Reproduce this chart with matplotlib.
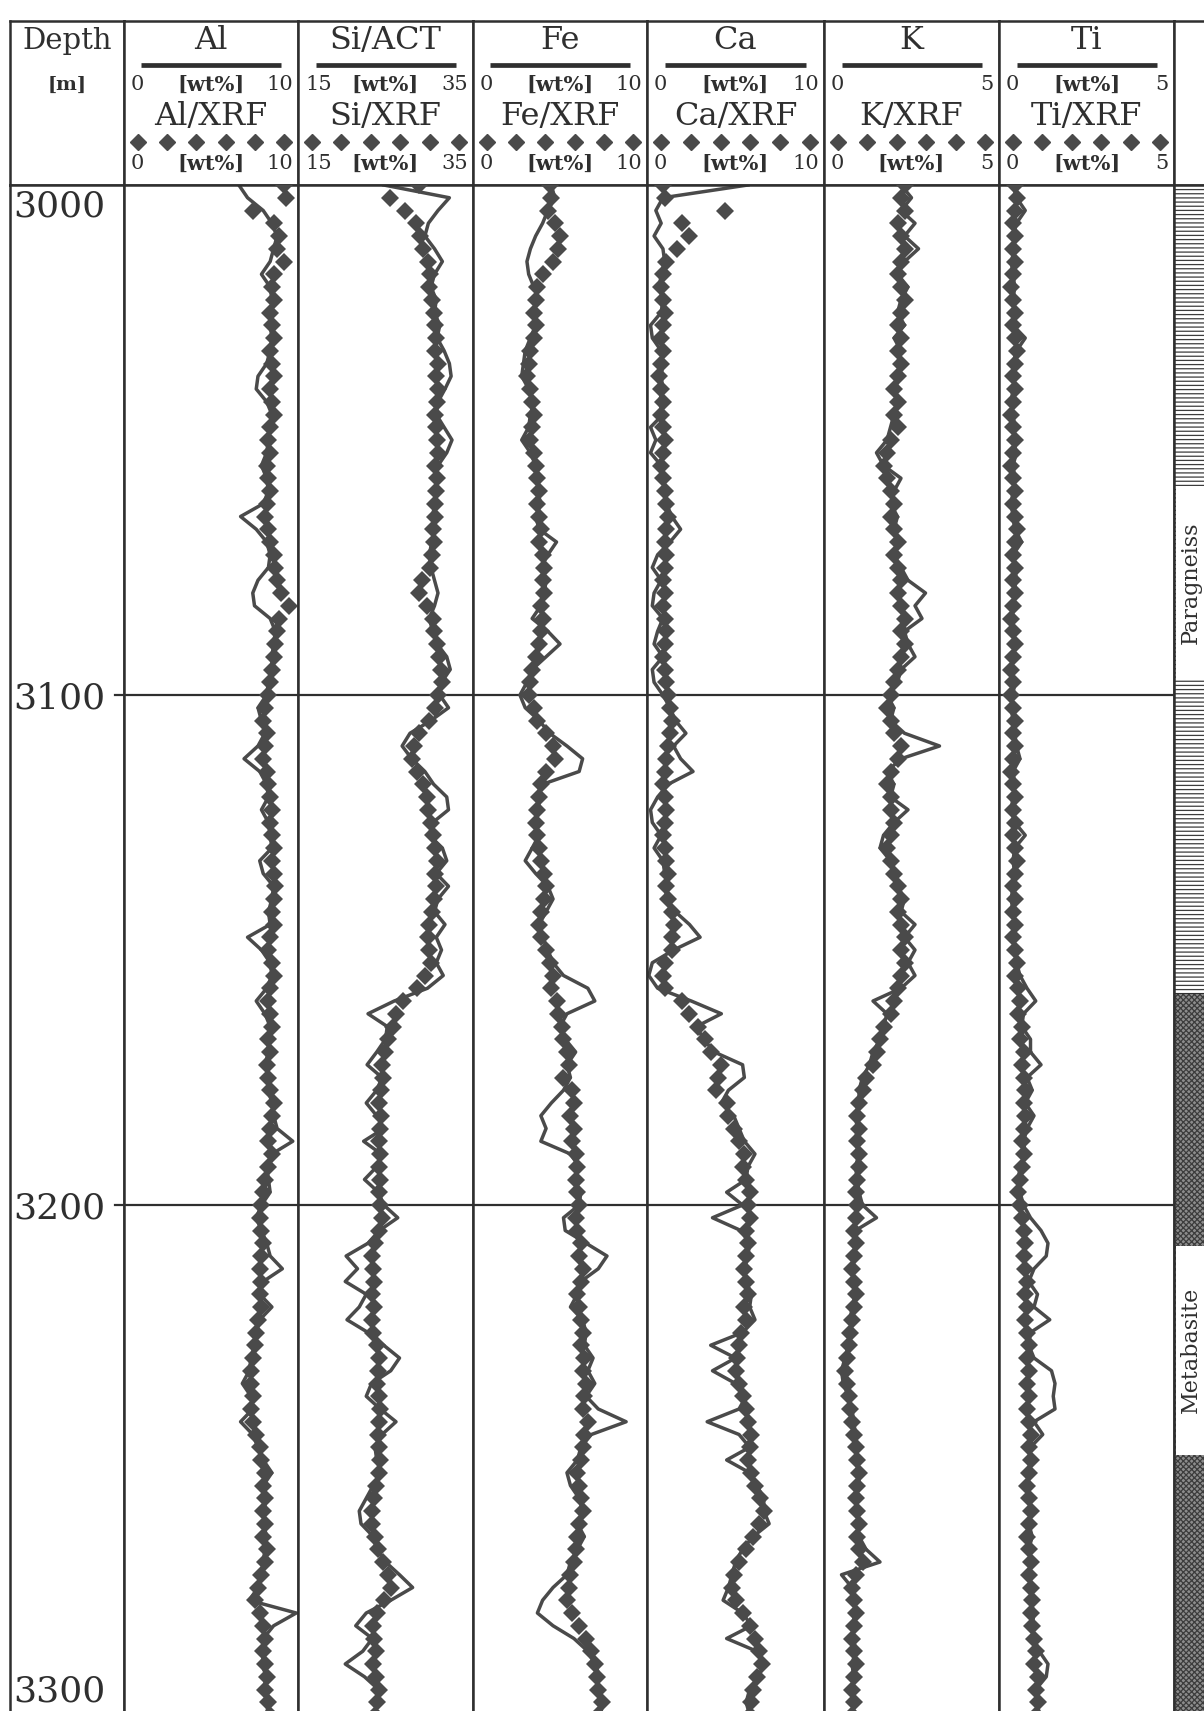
import numpy as np
import matplotlib
matplotlib.use("Agg")
import matplotlib.pyplot as plt

plt.rcParams["font.family"] = ["DejaVu Serif"]
plt.rcParams["hatch.linewidth"] = 0.9

# depth grid of the readings [m]
depth = np.arange(3000, 3300.1, 2.5)

al_act = [6.6, 7.1, 8.0, 8.5, 8.8, 8.6, 8.4, 7.9, 8.4, 8.5,
          8.5, 8.4, 8.5, 8.4, 8.2, 7.7, 7.6, 8.2, 8.5, 8.4,
          8.3, 8.2, 7.9, 8.2, 8.3, 8.0, 6.7, 7.6, 8.2, 8.4,
          8.3, 7.7, 7.4, 7.5, 8.4, 8.7, 8.6, 8.5, 8.5, 8.3,
          8.2, 7.7, 7.9, 8.1, 7.7, 6.9, 7.8, 8.2, 8.3, 7.9,
          8.3, 8.4, 8.5, 7.8, 8.0, 8.6, 8.5, 8.3, 8.4, 7.1,
          7.9, 8.4, 8.5, 8.2, 7.6, 8.1, 8.4, 8.3, 8.3, 8.1,
          8.3, 8.3, 8.5, 8.6, 8.8, 9.7, 8.5, 8.2, 8.3, 8.4,
          7.9, 7.6, 7.9, 8.2, 8.4, 9.1, 8.0, 7.8, 8.5, 7.8,
          7.6, 7.5, 7.3, 7.2, 6.8, 7.3, 7.4, 6.7, 7.4, 7.7,
          8.0, 8.5, 8.0, 8.1, 8.1, 8.0, 8.2, 8.1, 8.0, 7.9,
          7.7, 7.2, 9.9, 8.6, 8.0, 8.1, 7.9, 8.2, 8.0, 8.3,
          8.2]
al_xrf = [9.2, 9.3, 7.4, 8.6, 8.9, 8.8, 9.2, 8.6, 8.5, 8.6,
          8.4, 8.5, 8.6, 8.4, 8.5, 8.6, 8.4, 8.5, 8.6, 8.4,
          8.3, 8.4, 8.2, 8.3, 8.4, 8.2, 8.1, 8.3, 8.4, 8.6,
          8.7, 8.8, 9.0, 9.5, 8.9, 8.8, 8.7, 8.6, 8.5, 8.4,
          8.3, 8.1, 8.0, 8.2, 8.1, 8.0, 8.2, 8.3, 8.4, 8.5,
          8.4, 8.5, 8.6, 8.5, 8.6, 8.7, 8.6, 8.5, 8.6, 8.4,
          8.3, 8.5, 8.6, 8.4, 8.3, 8.4, 8.5, 8.3, 8.4, 8.2,
          8.3, 8.4, 8.6, 8.5, 8.4, 8.3, 8.5, 8.3, 8.1, 8.0,
          7.9, 7.8, 7.9, 8.0, 7.9, 7.8, 7.9, 7.8, 7.9, 7.7,
          7.6, 7.5, 7.4, 7.3, 7.3, 7.4, 7.3, 7.4, 7.6, 7.8,
          7.9, 8.1, 8.0, 8.1, 8.0, 8.1, 8.0, 8.2, 8.1, 7.9,
          7.7, 7.5, 7.8, 8.0, 8.1, 8.0, 8.1, 8.2, 8.1, 8.3,
          8.4]

si_act = [24.8, 32.3, 31.0, 29.9, 29.5, 30.6, 31.5, 30.6, 30.2, 30.8,
          30.6, 31.2, 30.9, 31.7, 32.3, 32.5, 31.8, 31.0, 30.8, 31.7,
          32.6, 32.0, 31.0, 30.8, 31.0, 30.6, 30.4, 30.6, 30.3, 30.0,
          30.2, 30.6, 31.0, 30.6, 30.0, 30.4, 30.9, 32.0, 32.4, 31.4,
          31.2, 32.2, 30.2, 27.8, 26.9, 28.0, 29.5, 30.5, 32.0, 32.2,
          30.4, 30.0, 31.5, 32.0, 30.8, 32.2, 31.0, 30.6, 31.8, 30.8,
          31.4, 30.8, 31.6, 29.8, 26.0, 23.0, 25.2, 25.0, 24.0, 22.9,
          24.6, 24.0, 22.8, 24.0, 24.8, 22.5, 24.5, 24.0, 22.6, 24.2,
          24.8, 26.4, 24.3, 23.0, 20.5, 21.8, 20.4, 22.8, 22.0, 20.6,
          23.0, 24.8, 26.6, 25.6, 23.4, 22.8, 24.4, 26.2, 24.6, 23.8,
          24.0, 24.5, 23.6, 22.8, 22.0, 22.2, 23.6, 24.0, 25.0, 26.6,
          28.1, 25.6, 22.8, 21.6, 23.5, 22.4, 20.4, 22.6, 24.2, 23.8,
          24.0]
si_xrf = [28.8, 25.5, 27.2, 28.5, 28.9, 29.3, 29.8, 30.1, 30.0, 30.3,
          30.5, 30.6, 30.8, 30.7, 31.0, 30.8, 31.0, 30.9, 30.6, 30.8,
          30.9, 31.0, 30.7, 30.9, 30.8, 30.6, 30.7, 30.4, 30.5, 30.3,
          30.1, 29.2, 28.8, 29.7, 30.4, 30.5, 30.9, 31.1, 31.3, 31.5,
          31.0, 30.6, 30.0, 28.8, 28.2, 28.0, 28.6, 29.3, 29.7, 29.8,
          30.2, 30.4, 30.7, 30.9, 30.6, 30.8, 30.5, 30.3, 30.0, 29.8,
          30.0, 30.2, 29.5, 28.6, 27.0, 26.2, 25.8, 25.3, 24.9, 24.6,
          24.7, 24.5, 24.3, 24.5, 24.4, 24.2, 24.4, 24.3, 24.4, 24.2,
          24.4, 24.6, 24.3, 23.8, 23.4, 23.6, 23.7, 23.5, 23.7, 23.5,
          23.6, 24.0, 24.3, 24.1, 24.0, 24.2, 24.4, 24.3, 24.1, 24.3,
          24.4, 24.2, 23.9, 23.7, 23.4, 23.5, 23.8, 24.1, 24.7, 25.3,
          25.6, 24.8, 24.0, 23.6, 23.7, 23.9, 23.6, 23.9, 24.2, 24.0,
          23.8]

fe_act = [4.5, 4.7, 4.3, 4.0, 3.6, 3.3, 3.1, 3.2, 3.5, 3.8,
          3.4, 3.6, 3.3, 3.0, 2.9, 2.8, 3.2, 3.5, 3.3, 3.2,
          2.8, 3.3, 3.6, 3.8, 3.7, 3.9, 3.6, 3.8, 4.8, 4.3,
          3.9, 4.2, 4.1, 3.9, 3.4, 4.3, 5.0, 4.2, 3.4, 3.1,
          2.7, 3.0, 3.8, 4.4, 5.4, 6.3, 6.1, 4.0, 3.6, 3.9,
          3.5, 3.8, 3.4, 3.0, 3.6, 4.3, 4.6, 4.2, 3.8, 4.0,
          4.3, 4.6, 5.2, 6.6, 7.0, 5.4, 5.0, 5.3, 5.9, 5.4,
          5.6, 5.2, 4.5, 3.9, 4.2, 3.9, 5.6, 6.1, 5.8, 6.2,
          6.1, 5.2, 5.3, 6.5, 7.7, 7.2, 6.2, 6.0, 5.6, 6.3,
          6.5, 6.4, 6.9, 6.6, 7.0, 6.5, 7.2, 8.8, 6.8, 6.2,
          6.0, 5.4, 5.6, 6.1, 6.3, 6.0, 6.4, 6.0, 5.6, 5.4,
          4.6, 4.0, 3.7, 4.6, 5.8, 6.6, 7.0, 7.3, 7.0, 7.5,
          7.3]
fe_xrf = [4.4, 4.5, 4.3, 4.7, 5.0, 4.9, 4.6, 4.0, 3.7, 3.6,
          3.5, 3.6, 3.5, 3.3, 3.2, 3.1, 3.3, 3.4, 3.5, 3.4,
          3.3, 3.5, 3.6, 3.7, 3.8, 3.7, 3.8, 3.9, 3.8, 4.0,
          4.1, 4.0, 4.1, 3.9, 4.0, 3.9, 3.8, 3.6, 3.4, 3.3,
          3.2, 3.5, 3.7, 4.2, 4.6, 4.7, 4.2, 3.9, 3.8, 3.7,
          3.6, 3.7, 3.8, 3.9, 4.1, 4.2, 4.1, 3.9, 3.8, 3.9,
          4.2, 4.4, 4.6, 4.5, 4.8, 4.9, 5.1, 5.2, 5.4, 5.5,
          5.2, 5.7, 5.8, 5.6, 5.8, 5.7, 5.9, 6.0, 5.9, 6.0,
          6.1, 5.9, 6.0, 6.2, 6.1, 6.3, 6.2, 6.0, 6.1, 6.2,
          6.3, 6.2, 6.4, 6.3, 6.5, 6.4, 6.3, 6.6, 6.4, 6.3,
          6.2, 6.0, 6.1, 6.2, 6.3, 6.1, 6.0, 5.9, 5.8, 5.6,
          5.5, 5.4, 5.7, 6.1, 6.5, 6.8, 7.0, 7.1, 7.2, 7.4,
          7.2]

ca_act = [5.7, 0.9, 0.5, 0.8, 0.4, 0.9, 1.0, 0.8, 0.7, 0.9,
          0.8, 0.2, 0.3, 0.8, 0.9, 0.8, 0.9, 0.7, 0.9, 0.2,
          0.5, 0.2, 0.8, 1.0, 0.9, 1.1, 1.4, 1.9, 1.3, 0.6,
          0.3, 0.8, 0.4, 0.3, 0.9, 0.6, 0.4, 0.9, 0.3, 0.4,
          0.9, 1.3, 1.6, 2.2, 1.5, 1.9, 2.6, 1.2, 0.6, 0.2,
          0.3, 0.8, 0.4, 0.9, 1.0, 1.2, 1.0, 1.6, 2.4, 3.0,
          1.5, 0.3, 0.1, 0.6, 2.5, 4.2, 2.8, 3.2, 3.8, 5.4,
          5.5, 4.6, 4.2, 4.9, 5.2, 5.5, 6.1, 5.7, 5.6, 4.5,
          5.4, 3.7, 5.3, 5.8, 5.7, 5.5, 5.6, 5.9, 5.8, 6.1,
          5.4, 3.6, 5.0, 3.7, 5.0, 5.6, 5.2, 3.4, 5.2, 5.8,
          4.5, 5.8, 6.2, 6.6, 6.6, 6.9, 6.0, 5.4, 5.0, 4.8,
          4.6, 4.3, 5.4, 5.9, 4.5, 6.2, 6.6, 6.3, 5.8, 5.6,
          5.8]
ca_xrf = [0.9, 1.0, 4.4, 2.0, 2.4, 1.7, 1.1, 0.9, 0.8, 0.9,
          1.0, 0.9, 0.8, 0.9, 0.8, 0.7, 0.8, 0.9, 0.8, 0.9,
          1.0, 0.9, 0.8, 0.9, 1.0, 1.1, 1.2, 1.1, 1.0, 1.1,
          1.0, 0.9, 1.0, 0.9, 1.0, 1.1, 1.0, 0.9, 1.0, 1.1,
          1.2, 1.3, 1.4, 1.3, 1.2, 1.1, 1.0, 0.9, 1.0, 1.1,
          1.0, 0.9, 1.0, 1.1, 1.2, 1.1, 1.2, 1.4, 1.5, 1.4,
          1.4, 1.0, 0.9, 1.0, 2.0, 2.4, 2.9, 3.3, 3.6, 4.2,
          4.0, 3.9, 4.5, 4.6, 4.9, 5.2, 5.5, 5.4, 5.6, 5.8,
          5.7, 5.8, 5.6, 5.7, 5.6, 5.5, 5.6, 5.7, 5.5, 5.6,
          5.3, 5.2, 5.1, 5.0, 5.2, 5.4, 5.6, 5.7, 5.9, 5.8,
          5.7, 5.9, 6.1, 6.4, 6.6, 6.3, 6.0, 5.6, 5.2, 4.9,
          4.8, 5.0, 5.4, 5.8, 6.1, 6.3, 6.5, 6.2, 6.0, 5.9,
          5.8]

k_act = [2.2, 2.5, 2.2, 2.6, 2.3, 2.7, 2.3, 2.1, 2.4, 2.2,
         2.1, 2.3, 2.0, 2.2, 2.1, 2.2, 2.0, 2.1, 2.0, 1.9,
         1.8, 1.5, 1.7, 2.2, 2.0, 1.9, 2.1, 2.0, 2.1, 2.0,
         2.2, 2.4, 2.9, 2.6, 2.8, 2.3, 2.4, 2.6, 2.2, 2.1,
         1.8, 2.0, 1.9, 2.3, 3.3, 2.2, 1.8, 2.0, 1.9, 2.4,
         2.0, 1.7, 1.6, 1.9, 2.0, 2.1, 2.3, 2.2, 2.6, 2.3,
         2.6, 2.4, 2.6, 2.2, 1.4, 1.8, 1.7, 1.6, 1.4, 1.3,
         1.1, 1.0, 1.0, 0.9, 0.95, 0.9, 1.0, 0.9, 0.95, 1.0,
         1.1, 1.5, 0.9, 0.85, 0.9, 0.8, 0.85, 0.9, 0.8, 0.75,
         0.8, 0.7, 0.6, 0.5, 0.55, 0.7, 0.8, 0.85, 0.9, 0.95,
         0.9, 1.0, 1.0, 0.9, 1.0, 0.95, 1.0, 1.2, 1.6, 0.5,
         0.8, 0.85, 0.9, 0.8, 0.85, 0.9, 0.8, 0.85, 0.8, 0.9,
         0.8]
k_xrf = [2.3, 2.2, 2.3, 2.1, 2.2, 2.3, 2.2, 2.1, 2.2, 2.3,
         2.2, 2.1, 2.2, 2.1, 2.2, 2.1, 2.0, 2.1, 2.0, 2.1,
         1.9, 1.8, 1.7, 1.8, 1.9, 2.0, 1.9, 2.0, 2.1, 2.0,
         2.1, 2.2, 2.1, 2.2, 2.3, 2.2, 2.3, 2.2, 2.1, 2.0,
         1.9, 1.8, 1.9, 2.0, 2.2, 2.1, 1.9, 1.8, 1.9, 1.9,
         2.0, 1.9, 1.8, 1.9, 2.0, 2.1, 2.2, 2.1, 2.2, 2.3,
         2.2, 2.3, 2.2, 2.1, 2.0, 1.9, 1.7, 1.6, 1.5, 1.4,
         1.2, 1.1, 1.0, 0.95, 1.0, 0.95, 1.0, 1.0, 0.95, 0.9,
         0.95, 0.9, 0.85, 0.9, 0.85, 0.8, 0.85, 0.9, 0.85, 0.8,
         0.75, 0.7, 0.65, 0.6, 0.65, 0.7, 0.75, 0.8, 0.85, 0.9,
         0.95, 1.0, 0.95, 0.9, 0.95, 1.0, 0.95, 1.0, 1.1, 0.9,
         0.8, 0.85, 0.9, 0.85, 0.8, 0.85, 0.9, 0.85, 0.8, 0.85,
         0.8]

ti_act = [0.4, 0.5, 0.75, 0.5, 0.4, 0.45, 0.35, 0.4, 0.45, 0.4,
          0.45, 0.4, 0.75, 0.5, 0.4, 0.45, 0.4, 0.35, 0.4, 0.45,
          0.4, 0.5, 0.4, 0.45, 0.4, 0.35, 0.4, 0.45, 0.65, 0.4,
          0.45, 0.5, 0.4, 0.45, 0.35, 0.4, 0.45, 0.4, 0.35, 0.45,
          0.4, 0.35, 0.4, 0.45, 0.5, 0.6, 0.4, 0.45, 0.4, 0.35,
          0.45, 0.75, 0.45, 0.4, 0.45, 0.4, 0.35, 0.4, 0.45, 0.4,
          0.45, 0.5, 0.6, 0.8, 1.05, 0.7, 0.65, 0.9, 0.9, 1.2,
          0.8, 0.95, 0.75, 1.0, 0.8, 0.7, 0.75, 0.6, 0.55, 0.6,
          0.7, 0.9, 1.2, 1.4, 1.35, 1.0, 0.85, 1.1, 1.0, 1.45,
          0.9, 0.85, 1.0, 1.5, 1.6, 1.55, 1.6, 1.0, 1.25, 0.9,
          0.85, 0.9, 0.8, 0.85, 0.9, 0.85, 0.95, 0.85, 0.9, 0.85,
          0.95, 0.9, 1.0, 0.95, 1.0, 1.15, 1.4, 1.35, 1.05, 1.1,
          1.15]
ti_xrf = [0.45, 0.5, 0.45, 0.4, 0.45, 0.4, 0.45, 0.4, 0.35, 0.4,
          0.45, 0.4, 0.45, 0.5, 0.45, 0.4, 0.45, 0.4, 0.35, 0.4,
          0.45, 0.4, 0.35, 0.4, 0.45, 0.4, 0.45, 0.5, 0.45, 0.4,
          0.45, 0.4, 0.45, 0.4, 0.35, 0.4, 0.45, 0.4, 0.35, 0.4,
          0.35, 0.4, 0.45, 0.4, 0.45, 0.4, 0.35, 0.4, 0.45, 0.4,
          0.45, 0.4, 0.45, 0.5, 0.45, 0.4, 0.45, 0.4, 0.45, 0.4,
          0.45, 0.5, 0.45, 0.55, 0.6, 0.55, 0.65, 0.6, 0.7, 0.65,
          0.7, 0.75, 0.7, 0.75, 0.7, 0.65, 0.7, 0.65, 0.6, 0.55,
          0.6, 0.65, 0.7, 0.75, 0.7, 0.75, 0.8, 0.75, 0.8, 0.75,
          0.8, 0.85, 0.8, 0.85, 0.8, 0.85, 0.8, 0.85, 0.9, 0.85,
          0.9, 0.85, 0.8, 0.85, 0.9, 0.85, 0.8, 0.85, 0.9, 0.85,
          0.9, 0.95, 0.9, 0.95, 1.0, 1.05, 1.0, 1.1, 1.05, 1.1,
          1.05]

titles = ["Al", "Si/ACT", "Fe", "Ca", "K", "Ti"]
xrf_labels = ["Al/XRF", "Si/XRF", "Fe/XRF", "Ca/XRF", "K/XRF", "Ti/XRF"]
scale_min = [0, 15, 0, 0, 0, 0]
scale_max = [10, 35, 10, 10, 5, 5]
act_unit = ["[wt%]", "[wt%]", "[wt%]", "[wt%]", "", "[wt%]"]
act_data = [al_act, si_act, fe_act, ca_act, k_act, ti_act]
xrf_data = [al_xrf, si_xrf, fe_xrf, ca_xrf, k_xrf, ti_xrf]

depth_labels = [3000, 3100, 3200, 3300]
grid_depths = [3100, 3200]
litho_names = ["Paragneiss", "Metabasite"]
litho_top = [3000, 3158.5]
litho_base = [3158.5, 3300]
litho_text = [(3059, 3097), (3208, 3249)]

# layout in pixels
W, H = 1204, 1711
col_x = [10, 124, 298, 473, 647, 824, 999, 1174, 1204]
top_px, head_px = 21, 185
px_per_m = 5.1
dmax = 3000 + (H - head_px) / px_per_m

ink = "#2f2f2f"
curve = "#4a4a4a"


def rect(x0, x1, y0, y1):
    return [x0 / W, 1 - y1 / H, (x1 - x0) / W, (y1 - y0) / H]


def frame(ax, lw=1.8):
    ax.set_xticks([])
    ax.set_yticks([])
    for s in ax.spines.values():
        s.set_color(ink)
        s.set_linewidth(lw)


fig = plt.figure(figsize=(W / 100, H / 100), dpi=100)

# depth column
hax = fig.add_axes(rect(col_x[0], col_x[1], top_px, head_px))
hax.set_xlim(0, 1)
hax.set_ylim(0, 1)
frame(hax)
hax.text(0.5, 0.88, "Depth", ha="center", va="center", fontsize=21, color=ink)
hax.text(0.5, 0.61, "[m]", ha="center", va="center", fontsize=14, fontweight="bold", color=ink)

dax = fig.add_axes(rect(col_x[0], col_x[1], head_px, H))
dax.set_xlim(0, 1)
dax.set_ylim(dmax, 3000)
frame(dax)
dax.spines["bottom"].set_visible(False)
tr = dax.get_yaxis_transform()
for d in depth_labels:
    if d == 3000:
        dax.text(0.03, d + 0.8, str(d), transform=tr, ha="left", va="top", fontsize=26, color=ink)
    elif d == 3300:
        dax.text(0.03, dmax - 0.4, str(d), transform=tr, ha="left", va="bottom", fontsize=26, color=ink)
    else:
        dax.text(0.03, d, str(d), transform=tr, ha="left", va="center_baseline", fontsize=26, color=ink)
for d in grid_depths:
    dax.axhline(d, xmin=0.92, xmax=1, color=ink, lw=1.6)

# element tracks
for k in range(6):
    x0, x1 = col_x[k + 1], col_x[k + 2]
    lo, hi = scale_min[k], scale_max[k]

    hax = fig.add_axes(rect(x0, x1, top_px, head_px))
    hax.set_xlim(0, 1)
    hax.set_ylim(0, 1)
    frame(hax)
    hax.text(0.5, 0.88, titles[k], ha="center", va="center", fontsize=23, color=ink)
    hax.plot([0.1, 0.9], [0.73, 0.73], color=ink, lw=3.4, solid_capstyle="butt")
    for yy, unit in [(0.61, act_unit[k]), (0.13, "[wt%]")]:
        hax.text(0.04, yy, str(lo), ha="left", va="center", fontsize=15, color=ink)
        hax.text(0.97, yy, str(hi), ha="right", va="center", fontsize=15, color=ink)
        if unit:
            hax.text(0.5, yy, unit, ha="center", va="center", fontsize=15,
                     fontweight="semibold", color=ink)
    hax.text(0.5, 0.415, xrf_labels[k], ha="center", va="center", fontsize=23, color=ink)
    hax.plot(np.linspace(0.08, 0.92, 6), np.full(6, 0.26), "D", ms=8, color=curve, mec=curve)

    ax = fig.add_axes(rect(x0, x1, head_px, H))
    ax.set_xlim(lo, hi)
    ax.set_ylim(dmax, 3000)
    frame(ax)
    ax.spines["bottom"].set_visible(False)
    for d in grid_depths:
        ax.axhline(d, color=ink, lw=1.6, zorder=1)
    ax.plot(act_data[k], depth, color=curve, lw=2.5, zorder=2)
    ax.plot(xrf_data[k], depth, "D", ms=9.5, color=curve, mec=curve, mew=0, zorder=3)

# lithology column
hax = fig.add_axes(rect(col_x[7], col_x[8], top_px, head_px))
frame(hax)
hax.spines["right"].set_visible(False)

lax = fig.add_axes(rect(col_x[7], col_x[8], head_px, H))
lax.set_xlim(0, 1)
lax.set_ylim(dmax, 3000)
frame(lax)
lax.spines["right"].set_visible(False)
lax.spines["bottom"].set_visible(False)
hatches = ["----", "xxxxxx"]
faces = ["white", "#8c8c8c"]
for name, t, b, (ts, tb), hatch, fc in zip(litho_names, litho_top, litho_base,
                                            litho_text, hatches, faces):
    lax.axhspan(t, b, facecolor=fc, edgecolor="#3c3c3c", hatch=hatch, lw=0)
    lax.axhspan(ts, tb, xmin=0.05, facecolor="white", edgecolor="none", zorder=2)
    lax.text(0.55, (ts + tb) / 2, name, rotation=90, ha="center", va="center",
             fontsize=16, color=ink, zorder=3)
lax.axhline(litho_base[0], color=ink, lw=0.8)

fig.savefig("out.png", dpi=100)
